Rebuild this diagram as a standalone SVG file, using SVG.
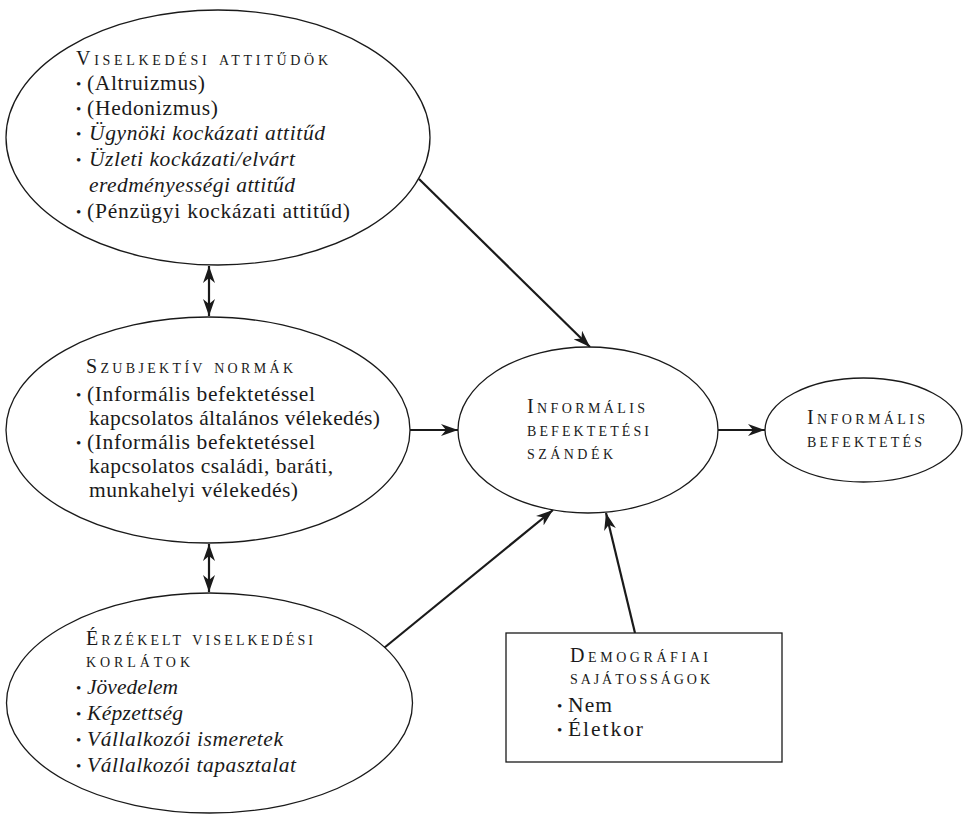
<svg xmlns="http://www.w3.org/2000/svg" width="971" height="815" viewBox="0 0 971 815">
<defs>
<marker id="arr" markerUnits="userSpaceOnUse" markerWidth="18" markerHeight="13" refX="17" refY="6.5" orient="auto-start-reverse">
<path d="M0,0.5 L17,6.5 L0,12.5 L5,6.5 z" fill="#1a1a1a"/>
</marker>
<style>
.sh{fill:#fff;stroke:#1a1a1a;stroke-width:1.3}
.c{stroke:#1a1a1a;stroke-width:2.2;fill:none}
text{font-family:"Liberation Serif","Times New Roman",serif;font-size:21.5px;fill:#1a1a1a}
.h{font-variant:small-caps;font-size:20px}
.i{font-style:italic}
.b{font-size:15px}
</style>
</defs>
<rect width="971" height="815" fill="#fff"/>
<g id="connectors">
<line class="c" x1="209" y1="266" x2="209" y2="316" marker-start="url(#arr)" marker-end="url(#arr)"/>
<line class="c" x1="209" y1="544" x2="209" y2="592" marker-start="url(#arr)" marker-end="url(#arr)"/>
<line class="c" x1="419" y1="179" x2="590" y2="347" marker-end="url(#arr)"/>
<line class="c" x1="410" y1="430" x2="458" y2="430" marker-end="url(#arr)"/>
<line class="c" x1="384" y1="648" x2="553" y2="510" marker-end="url(#arr)"/>
<line class="c" x1="635" y1="633" x2="606" y2="513" marker-end="url(#arr)"/>
<line class="c" x1="718" y1="430" x2="765" y2="430" marker-end="url(#arr)"/>
</g>
<g id="attitudes">
<ellipse class="sh" cx="218" cy="137.5" rx="212" ry="127.5"/>
<text class="h" x="76" y="65" textLength="252">Viselkedési attitűdök</text>
<text class="b" x="76" y="89">•</text><text x="87" y="90" textLength="118">(Altruizmus)</text>
<text class="b" x="76" y="114">•</text><text x="87" y="115" textLength="131">(Hedonizmus)</text>
<text class="b" x="76" y="139">•</text><text class="i" x="89" y="140" textLength="236">Ügynöki kockázati attitűd</text>
<text class="b" x="76" y="165">•</text><text class="i" x="89" y="166" textLength="206">Üzleti kockázati/elvárt</text>
<text class="i" x="89" y="192" textLength="206">eredményességi attitűd</text>
<text class="b" x="76" y="217">•</text><text x="87" y="218" textLength="263">(Pénzügyi kockázati attitűd)</text>
</g>
<g id="norms">
<ellipse class="sh" cx="208" cy="430" rx="202" ry="113"/>
<text class="h" x="86" y="373" textLength="207">Szubjektív normák</text>
<text class="b" x="76" y="400">•</text><text x="87" y="401" textLength="228">(Informális befektetéssel</text>
<text x="89" y="425" textLength="291">kapcsolatos általános vélekedés)</text>
<text class="b" x="76" y="448">•</text><text x="87" y="449" textLength="228">(Informális befektetéssel</text>
<text x="89" y="473" textLength="244">kapcsolatos családi, baráti,</text>
<text x="89" y="497" textLength="209">munkahelyi vélekedés)</text>
</g>
<g id="constraints">
<ellipse class="sh" cx="209.5" cy="703" rx="203" ry="110"/>
<text class="h" x="86" y="645" textLength="227">Érzékelt viselkedési</text>
<text class="h" x="86" y="667" textLength="104">korlátok</text>
<text class="b" x="76" y="693">•</text><text class="i" x="87" y="694" textLength="91">Jövedelem</text>
<text class="b" x="76" y="719">•</text><text class="i" x="87" y="720" textLength="96">Képzettség</text>
<text class="b" x="76" y="745">•</text><text class="i" x="87" y="746" textLength="196">Vállalkozói ismeretek</text>
<text class="b" x="76" y="771">•</text><text class="i" x="87" y="772" textLength="209">Vállalkozói tapasztalat</text>
</g>
<g id="intention">
<ellipse class="sh" cx="588" cy="430" rx="130" ry="83"/>
<text class="h" x="527" y="413" textLength="118">Informális</text>
<text class="h" x="527" y="436" textLength="122">befektetési</text>
<text class="h" x="527" y="459" textLength="86">szándék</text>
</g>
<g id="investment">
<ellipse class="sh" cx="863.5" cy="430" rx="98.5" ry="52"/>
<text class="h" x="807" y="424" textLength="118">Informális</text>
<text class="h" x="807" y="447" textLength="115">befektetés</text>
</g>
<g id="demographics">
<rect class="sh" x="506" y="633" width="276" height="129"/>
<text class="h" x="570" y="662" textLength="138">Demográfiai</text>
<text class="h" x="570" y="684" textLength="140">sajátosságok</text>
<text class="b" x="557" y="711">•</text><text x="568" y="712" textLength="44">Nem</text>
<text class="b" x="557" y="735">•</text><text x="568" y="736" textLength="75">Életkor</text>
</g>
</svg>
